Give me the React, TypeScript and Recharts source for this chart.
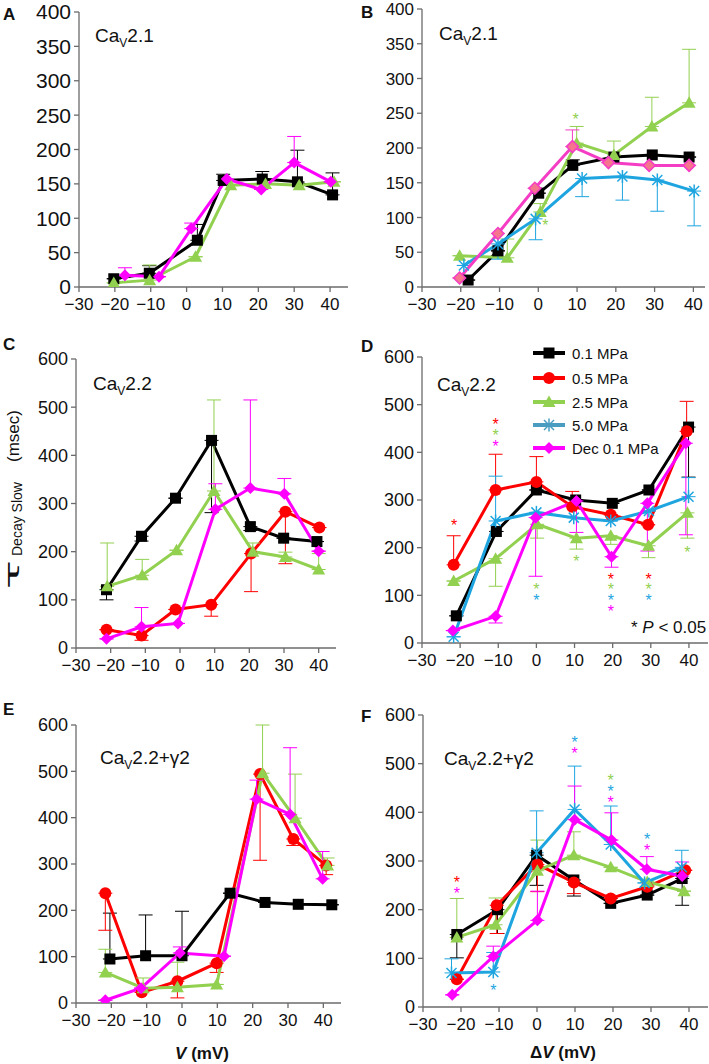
import React from 'react';
import { ComposedChart, Line, Scatter, XAxis, YAxis, ErrorBar } from 'recharts';

const FONT = '"Liberation Sans", Arial, Helvetica, sans-serif';

const C_BLACK = '#000000';
const C_RED = '#FF0000';
const C_GREEN = '#92D050';
const C_BLUE = '#1EA5E0';
const C_MAG = '#FF00FF';
const C_PINK = '#F43CC4';
const C_LEG_BLUE = '#4A9CC0';

const xTicks = [-30, -20, -10, 0, 10, 20, 30, 40];
const yTicks400 = [0, 50, 100, 150, 200, 250, 300, 350, 400];
const yTicks600 = [0, 100, 200, 300, 400, 500, 600];

const legendLabels = ['0.1 MPa', '0.5 MPa', '2.5 MPa', '5.0 MPa', 'Dec 0.1 MPa'];

// ---------- Panel A (Cav2.1) ----------
const aBlackX = [-20.3, -10.4, 3, 10.2, 21.1, 30.9, 40.7];
const aBlackY = [12, 20, 68, 155, 157, 153, 134];
const aBlackE = [0, 11, 23, 9, 11, 46, 32];
const aGreenX = [-20.3, -10.3, 2.5, 12.3, 22, 31.4, 41.1];
const aGreenY = [6, 10, 44, 148, 150, 148, 153];
const aGreenE = [0, 22, 0, 0, 0, 0, 0];
const aMagX = [-17.2, -7.7, 1.3, 11.2, 20.8, 30, 40.2];
const aMagY = [17, 15, 85, 157, 142, 181, 153];
const aMagE = [11, 0, 8, 0, 0, 38, 0];

// ---------- Panel B (Cav2.1) ----------
const bBlackX = [-18.1, -10.4, 0.1, 8.9, 19.5, 29.4, 38.9];
const bBlackY = [10, 52, 135, 175, 187, 190, 187];
const bBlackE = [0, 0, 0, 8, 0, 0, 0];
const bGreenX = [-20.3, -8, 0.5, 9.9, 19.5, 29.3, 38.9];
const bGreenY = [45, 42, 108, 207, 190, 231, 265];
const bGreenE = [0, 27, 12, 24, 20, 42, 77];
const bBlueX = [-19.2, -10.4, -0.7, 11.3, 21.7, 30.7, 40.2];
const bBlueY = [31, 62, 98, 156, 159, 154, 138];
const bBlueE = [0, 22, 30, 26, 34, 45, 50];
const bMagX = [-20.3, -10.4, -0.9, 8.8, 18.1, 28.6, 38.9];
const bMagY = [13, 77, 142, 202, 179, 175, 175];
const bMagE = [0, 0, 0, 24, 0, 0, 0];
const bStarGreenX = [9.6, 1.8];
const bStarGreenY = [246, 93];

// ---------- Panel C (Cav2.2) ----------
const cBlackX = [-21.2, -11.1, -1.3, 9.1, 20.3, 29.9, 39.5];
const cBlackY = [121, 232, 311, 431, 252, 228, 221];
const cBlackE = [21, 10, 0, 150, 8, 0, 0];
const cRedX = [-21.2, -11.1, -1.3, 9, 20.5, 30.4, 40.2];
const cRedY = [38, 26, 80, 90, 196, 283, 250];
const cRedE = [0, 10, 0, 24, 79, 108, 0];
const cGreenX = [-21, -10.9, -1, 9.8, 21, 30.4, 40];
const cGreenY = [128, 151, 203, 326, 200, 189, 163];
const cGreenE = [90, 33, 0, 189, 18, 10, 33];
const cMagX = [-21.2, -11.1, -0.6, 10.2, 20.3, 30.1, 40];
const cMagY = [19, 44, 51, 288, 332, 320, 201];
const cMagE = [0, 40, 0, 53, 183, 32, 0];

// ---------- Panel D (Cav2.2) ----------
const dBlackX = [-21, -10.5, 0, 10.3, 19.9, 29.5, 39.9];
const dBlackY = [57, 234, 321, 300, 293, 321, 453];
const dBlackE = [0, 0, 0, 0, 0, 0, 105];
const dRedX = [-21.7, -10.7, 0, 9.4, 19.5, 29.3, 39.4];
const dRedY = [164, 321, 338, 286, 269, 248, 444];
const dRedE = [61, 75, 53, 32, 0, 0, 63];
const dGreenX = [-21.7, -10.7, 0.2, 10.5, 19.5, 29.4, 39.6];
const dGreenY = [130, 177, 249, 220, 225, 204, 273];
const dGreenE = [0, 58, 29, 23, 18, 25, 53];
const dBlueX = [-21.7, -10.7, 0, 9.8, 19.5, 29.5, 39.9];
const dBlueY = [13, 256, 274, 263, 256, 277, 307];
const dBlueE = [0, 94, 0, 0, 0, 0, 40];
const dMagX = [-21.9, -10.7, -0.2, 10.5, 19.7, 29.1, 39.2];
const dMagY = [26, 56, 263, 298, 181, 293, 419];
const dMagE = [0, 14, 123, 66, 22, 100, 192];
const dStarRedX = [-21.6, -10.7, 19.5, 29.4];
const dStarRedY = [254, 465, 141, 141];
const dStarGreenX = [-10.7, 0, 10.5, 19.5, 29.4, 39.6];
const dStarGreenY = [442, 119, 179, 119, 119, 197];
const dStarBlueX = [0, 19.5, 29.4];
const dStarBlueY = [96, 96, 96];
const dStarMagX = [-10.7, 19.5];
const dStarMagY = [419, 73];

// ---------- Panel E (Cav2.2+g2) ----------
const eBlackX = [-20.4, -10.3, 0, 13.6, 23.5, 32.9, 42.4];
const eBlackY = [95, 102, 102, 237, 217, 213, 212];
const eBlackE = [99, 88, 96, 0, 0, 0, 0];
const eRedX = [-21.7, -11.4, -1.3, 9.8, 22.1, 31.5, 40.8];
const eRedY = [237, 23, 47, 86, 494, 354, 297];
const eRedE = [80, 0, 36, 20, 186, 14, 20];
const eGreenX = [-21.7, -11, -1.3, 9.8, 22.8, 32, 41.2];
const eGreenY = [66, 32, 34, 40, 496, 399, 297];
const eGreenE = [50, 22, 54, 0, 104, 95, 16];
const eMagX = [-21.7, -11.6, -0.6, 11.9, 21.1, 30.6, 39.8];
const eMagY = [6, 32, 108, 101, 440, 407, 268];
const eMagE = [0, 0, 13, 0, 41, 144, 59];

// ---------- Panel F (Cav2.2+g2) ----------
const fBlackX = [-21.1, -10.4, -0.1, 9.7, 19.4, 29, 38.2];
const fBlackY = [149, 200, 312, 261, 213, 230, 264];
const fBlackE = [48, 49, 62, 33, 0, 0, 55];
const fRedX = [-21.1, -10.6, 0.1, 9.7, 19.4, 29, 39];
const fRedY = [57, 209, 293, 256, 223, 247, 281];
const fRedE = [0, 58, 56, 23, 0, 0, 0];
const fGreenX = [-21.1, -10.9, 0.1, 9.7, 19.4, 29, 38.7];
const fGreenY = [143, 169, 280, 312, 287, 257, 238];
const fGreenE = [80, 55, 63, 48, 0, 0, 0];
const fBlueX = [-22.5, -11.5, -0.1, 9.9, 19.4, 28.3, 38.1];
const fBlueY = [70, 72, 317, 406, 334, 255, 287];
const fBlueE = [29, 40, 86, 89, 79, 0, 35];
const fMagX = [-22.3, -11.5, 0.1, 9.9, 19.6, 28.9, 38.2];
const fMagY = [25, 104, 178, 385, 343, 283, 269];
const fMagE = [0, 21, 60, 69, 56, 26, 29];
const fStarRedX = [-21.1];
const fStarRedY = [264];
const fStarGreenX = [19.4];
const fStarGreenY = [473];
const fStarBlueX = [-11.5, 9.9, 19.4, 29];
const fStarBlueY = [42, 551, 450, 352];
const fStarMagX = [-21.1, 9.9, 19.4, 29];
const fStarMagY = [241, 528, 427, 329];

type Pt = { x: number; y: number; e: [number, number] };
function series(xs: number[], ys: number[], es: number[], dir: 'up' | 'down'): Pt[] {
  return xs.map((x, i) => ({ x, y: ys[i], e: dir === 'up' ? [0, es[i]] : [es[i], 0] }));
}
function starPts(xs: number[], ys: number[]) {
  return xs.map((x, i) => ({ x, y: ys[i] }));
}

type Kind = 'square' | 'circle' | 'triangle' | 'star' | 'diamond';

function Marker({ kind, cx, cy, color, fill }: { kind: Kind; cx: number; cy: number; color: string; fill?: string }) {
  const f = fill || color;
  if (kind === 'square') return <rect x={cx - 5.5} y={cy - 5.5} width={11} height={11} fill={f} />;
  if (kind === 'circle') return <circle cx={cx} cy={cy} r={6} fill={f} />;
  if (kind === 'triangle')
    return <polygon points={`${cx},${cy - 6.5} ${cx - 6.5},${cy + 5} ${cx + 6.5},${cy + 5}`} fill={f} />;
  if (kind === 'diamond')
    return (
      <polygon
        points={`${cx},${cy - 6} ${cx + 6},${cy} ${cx},${cy + 6} ${cx - 6},${cy}`}
        fill={f}
        stroke={color}
        strokeWidth={fill ? 1.5 : 0}
      />
    );
  return (
    <g stroke={color} strokeWidth={1.5}>
      <line x1={cx - 5} y1={cy - 5} x2={cx + 5} y2={cy + 5} />
      <line x1={cx - 5} y1={cy + 5} x2={cx + 5} y2={cy - 5} />
      <line x1={cx} y1={cy - 6.5} x2={cx} y2={cy + 6.5} />
    </g>
  );
}

type SeriesDef = { data: Pt[]; kind: Kind; color: string; fill?: string };
type StarDef = { data: { x: number; y: number }[]; color: string };

const fmt = (v: number) => (v < 0 ? '\u2212' + Math.abs(v) : String(v));

function Panel({
  L, T, R, B, xMax, yMax, yTicks, yFont, list, stars,
}: {
  L: number; T: number; R: number; B: number; xMax: number; yMax: number; yTicks: number[]; yFont: number;
  list: SeriesDef[]; stars: StarDef[];
}) {
  const ml = 56;
  const mr = 1;
  const mt = 16;
  const xh = 40;
  const w = R - L + ml + mr;
  const h = B - T + mt + xh;
  return (
    <div style={{ position: 'absolute', left: L - ml, top: T - mt, width: w, height: h }}>
      <ComposedChart width={w} height={h} margin={{ top: mt, right: mr, left: 0, bottom: 0 }}>
        <XAxis
          type="number"
          dataKey="x"
          domain={[-30, xMax]}
          ticks={xTicks}
          interval={0}
          allowDataOverflow
          height={xh}
          tickFormatter={fmt}
          tickSize={5}
          tickMargin={6}
          axisLine={{ stroke: '#6b6b6b', strokeWidth: 1.3 }}
          tickLine={{ stroke: '#6b6b6b', strokeWidth: 1.3 }}
          tick={{ fontSize: 17, fill: '#111', fontFamily: FONT }}
        />
        <YAxis
          type="number"
          dataKey="y"
          domain={[0, yMax]}
          ticks={yTicks}
          interval={0}
          allowDataOverflow
          width={ml}
          tickSize={5}
          tickMargin={3}
          axisLine={{ stroke: '#6b6b6b', strokeWidth: 1.3 }}
          tickLine={{ stroke: '#6b6b6b', strokeWidth: 1.3 }}
          tick={{ fontSize: yFont, fill: '#111', fontFamily: FONT }}
        />
        {list.map((s, si) => (
          <Line
            key={'s' + si}
            data={s.data}
            dataKey="y"
            stroke={s.color}
            strokeWidth={3}
            isAnimationActive={false}
            activeDot={false}
            legendType="none"
            dot={(p: any) => (
              <Marker key={'m' + si + '-' + p.index} kind={s.kind} cx={p.cx} cy={p.cy} color={s.color} fill={s.fill} />
            )}
          >
            <ErrorBar dataKey="e" width={7} stroke={s.color} strokeWidth={1} direction="y" />
          </Line>
        ))}
        {stars.map((st, i) => (
          <Scatter
            key={'st' + i}
            data={st.data}
            dataKey="y"
            isAnimationActive={false}
            legendType="none"
            shape={(p: any) => (
              <text
                x={p.cx}
                y={p.cy + 9}
                textAnchor="middle"
                fontSize={16}
                fontFamily={FONT}
                fill={st.color}
              >
                *
              </text>
            )}
          />
        ))}
      </ComposedChart>
    </div>
  );
}

function Title({ x, y, rest }: { x: number; y: number; rest: string }) {
  return (
    <text x={x} y={y} fontSize={19} fontFamily={FONT} fill="#111">
      Ca
      <tspan fontSize={12} dy={5}>
        V
      </tspan>
      <tspan fontSize={19} dy={-5}>
        {rest}
      </tspan>
    </text>
  );
}

function Letter({ x, y, t }: { x: number; y: number; t: string }) {
  return (
    <text x={x} y={y} fontSize={17} fontWeight="bold" fontFamily={FONT} fill="#111">
      {t}
    </text>
  );
}

export default function App() {
  const A: SeriesDef[] = [
    { data: series(aBlackX, aBlackY, aBlackE, 'up'), kind: 'square', color: C_BLACK },
    { data: series(aGreenX, aGreenY, aGreenE, 'up'), kind: 'triangle', color: C_GREEN },
    { data: series(aMagX, aMagY, aMagE, 'up'), kind: 'diamond', color: C_MAG },
  ];
  const Bs: SeriesDef[] = [
    { data: series(bBlackX, bBlackY, bBlackE, 'up'), kind: 'square', color: C_BLACK },
    { data: series(bGreenX, bGreenY, bGreenE, 'up'), kind: 'triangle', color: C_GREEN },
    { data: series(bBlueX, bBlueY, bBlueE, 'down'), kind: 'star', color: C_BLUE },
    { data: series(bMagX, bMagY, bMagE, 'up'), kind: 'diamond', color: C_PINK, fill: '#F5758E' },
  ];
  const Cs: SeriesDef[] = [
    { data: series(cBlackX, cBlackY, cBlackE, 'down'), kind: 'square', color: C_BLACK },
    { data: series(cRedX, cRedY, cRedE, 'down'), kind: 'circle', color: C_RED },
    { data: series(cGreenX, cGreenY, cGreenE, 'up'), kind: 'triangle', color: C_GREEN },
    { data: series(cMagX, cMagY, cMagE, 'up'), kind: 'diamond', color: C_MAG },
  ];
  const Ds: SeriesDef[] = [
    { data: series(dBlackX, dBlackY, dBlackE, 'down'), kind: 'square', color: C_BLACK },
    { data: series(dRedX, dRedY, dRedE, 'up'), kind: 'circle', color: C_RED },
    { data: series(dGreenX, dGreenY, dGreenE, 'down'), kind: 'triangle', color: C_GREEN },
    { data: series(dBlueX, dBlueY, dBlueE, 'up'), kind: 'star', color: C_BLUE },
    { data: series(dMagX, dMagY, dMagE, 'down'), kind: 'diamond', color: C_MAG },
  ];
  const Es: SeriesDef[] = [
    { data: series(eBlackX, eBlackY, eBlackE, 'up'), kind: 'square', color: C_BLACK },
    { data: series(eRedX, eRedY, eRedE, 'down'), kind: 'circle', color: C_RED },
    { data: series(eGreenX, eGreenY, eGreenE, 'up'), kind: 'triangle', color: C_GREEN },
    { data: series(eMagX, eMagY, eMagE, 'up'), kind: 'diamond', color: C_MAG },
  ];
  const Fs: SeriesDef[] = [
    { data: series(fBlackX, fBlackY, fBlackE, 'down'), kind: 'square', color: C_BLACK },
    { data: series(fRedX, fRedY, fRedE, 'down'), kind: 'circle', color: C_RED },
    { data: series(fGreenX, fGreenY, fGreenE, 'up'), kind: 'triangle', color: C_GREEN },
    { data: series(fBlueX, fBlueY, fBlueE, 'up'), kind: 'star', color: C_BLUE },
    { data: series(fMagX, fMagY, fMagE, 'up'), kind: 'diamond', color: C_MAG },
  ];

  const legendKinds: Kind[] = ['square', 'circle', 'triangle', 'star', 'diamond'];
  const legendColors = [C_BLACK, C_RED, C_GREEN, C_LEG_BLUE, C_MAG];
  const legendRows = [353, 378, 402, 425, 448];

  return (
    <div
      style={{
        position: 'absolute',
        left: 0,
        top: 0,
        width: 709,
        height: 1064,
        overflow: 'hidden',
        background: '#fff',
        fontFamily: FONT,
      }}
    >
      <Panel L={79} T={12} R={348} B={287} xMax={45} yMax={400} yTicks={yTicks400} yFont={21} list={A} stars={[]} />
      <Panel
        L={422}
        T={9}
        R={705}
        B={287}
        xMax={43}
        yMax={400}
        yTicks={yTicks400}
        yFont={17}
        list={Bs}
        stars={[{ data: starPts(bStarGreenX, bStarGreenY), color: C_GREEN }]}
      />
      <Panel L={76} T={359} R={336} B={648} xMax={45} yMax={600} yTicks={yTicks600} yFont={18} list={Cs} stars={[]} />
      <Panel
        L={422}
        T={357}
        R={708}
        B={643}
        xMax={45}
        yMax={600}
        yTicks={yTicks600}
        yFont={18}
        list={Ds}
        stars={[
          { data: starPts(dStarRedX, dStarRedY), color: C_RED },
          { data: starPts(dStarGreenX, dStarGreenY), color: C_GREEN },
          { data: starPts(dStarBlueX, dStarBlueY), color: C_BLUE },
          { data: starPts(dStarMagX, dStarMagY), color: C_MAG },
        ]}
      />
      <Panel L={76} T={725} R={341} B={1003} xMax={45} yMax={600} yTicks={yTicks600} yFont={18} list={Es} stars={[]} />
      <Panel
        L={423}
        T={715}
        R={708}
        B={1007}
        xMax={45}
        yMax={600}
        yTicks={yTicks600}
        yFont={18}
        list={Fs}
        stars={[
          { data: starPts(fStarRedX, fStarRedY), color: C_RED },
          { data: starPts(fStarGreenX, fStarGreenY), color: C_GREEN },
          { data: starPts(fStarBlueX, fStarBlueY), color: C_BLUE },
          { data: starPts(fStarMagX, fStarMagY), color: C_MAG },
        ]}
      />

      <svg
        width={709}
        height={1064}
        style={{ position: 'absolute', left: 0, top: 0, pointerEvents: 'none' }}
      >
        <Letter x={3} y={20} t="A" />
        <Letter x={361} y={18} t="B" />
        <Letter x={3} y={350} t="C" />
        <Letter x={361} y={352} t="D" />
        <Letter x={3} y={715} t="E" />
        <Letter x={361} y={722} t="F" />

        <Title x={95} y={42} rest="2.1" />
        <Title x={439} y={40} rest="2.1" />
        <Title x={93} y={390} rest="2.2" />
        <Title x={437} y={391} rest="2.2" />
        <Title x={100} y={764} rest={'2.2+\u03B32'} />
        <Title x={444} y={765} rest={'2.2+\u03B32'} />

        {/* y axis label */}
        <g transform="translate(19, 589) rotate(-90)">
          <text x={0} y={0} fontSize={20} fontFamily="DejaVu Sans" fill="#111" transform="scale(2.4,1)">
            {'\u03C4'}
          </text>
          <text x={33} y={3} fontSize={14} fontFamily={FONT} fill="#111">
            Decay Slow
          </text>
          <text x={127} y={0} fontSize={17} fontFamily={FONT} fill="#111">
            (msec)
          </text>
        </g>

        {/* legend */}
        {legendLabels.map((lab, i) => (
          <g key={'lg' + i}>
            <line x1={533} x2={565} y1={legendRows[i]} y2={legendRows[i]} stroke={legendColors[i]} strokeWidth={4} />
            <Marker kind={legendKinds[i]} cx={549} cy={legendRows[i]} color={legendColors[i]} />
            <text x={572} y={legendRows[i] + 5.5} fontSize={15} fontFamily={FONT} fill="#111">
              {lab}
            </text>
          </g>
        ))}

        <text x={631} y={633} fontSize={17} fontFamily={FONT} fill="#111">
          {'* '}
          <tspan fontStyle="italic">P</tspan>
          {' < 0.05'}
        </text>

        <text x={202} y={1059} textAnchor="middle" fontSize={17} fontWeight="bold" fontFamily={FONT} fill="#111">
          <tspan fontStyle="italic">V</tspan>
          {' (mV)'}
        </text>
        <text x={563} y={1058} textAnchor="middle" fontSize={17} fontWeight="bold" fontFamily={FONT} fill="#111">
          {'\u0394'}
          <tspan fontStyle="italic">V</tspan>
          {' (mV)'}
        </text>
      </svg>
    </div>
  );
}
